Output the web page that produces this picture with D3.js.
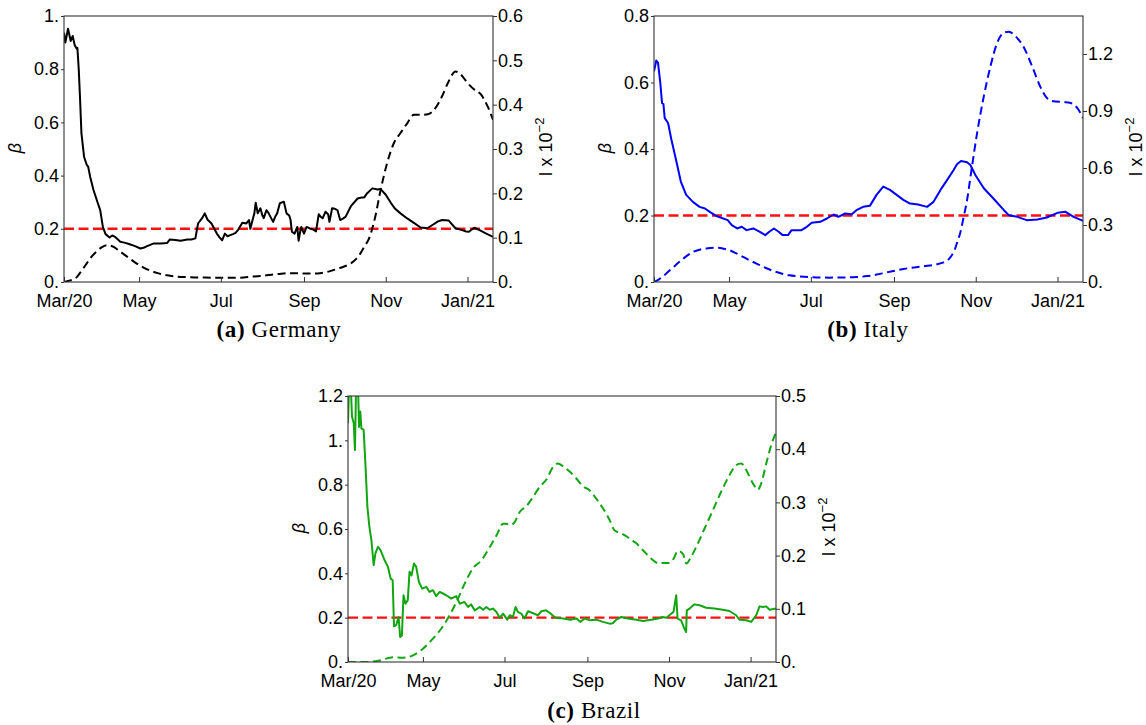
<!DOCTYPE html>
<html>
<head>
<meta charset="utf-8">
<script src="https://cdn.jsdelivr.net/npm/d3@7"></script>
<style>
  html, body { margin: 0; padding: 0; background: #fff; }
  svg { display: block; }
  .tick-label { font-family: "Liberation Sans", Arial, Helvetica, sans-serif; font-size: 18px; fill: #000; }
  .caption { font-family: "Liberation Serif", "Times New Roman", serif; font-size: 23px; fill: #000; letter-spacing: 0.6px; }
</style>
</head>
<body>
<svg id="chart" width="1146" height="725"></svg>
<script>
// ---- Data: [days since 6 Mar 2020, value] ----
const seriesStart = Date.UTC(2020, 2, 6);
const seriesDays = 320;

const dateTickDates = [[2020, 2, 6], [2020, 4, 1], [2020, 6, 1], [2020, 8, 1], [2020, 10, 1], [2021, 0, 1]];
const dateTickLabels = ["Mar/20", "May", "Jul", "Sep", "Nov", "Jan/21"];

const betaThreshold = 0.2;

const germanyBetaTicks = [0, 0.2, 0.4, 0.6, 0.8, 1];
const germanyITicks = [0, 0.1, 0.2, 0.3, 0.4, 0.5, 0.6];
const italyBetaTicks = [0, 0.2, 0.4, 0.6, 0.8];
const italyITicks = [0, 0.3, 0.6, 0.9, 1.2];
const brazilBetaTicks = [0, 0.2, 0.4, 0.6, 0.8, 1, 1.2];
const brazilITicks = [0, 0.1, 0.2, 0.3, 0.4, 0.5];

const germanyBeta = [[0,0.937],[1,0.90],[3,0.952],[5,0.906],[6.5,0.925],[8,0.89],[9.5,0.877],[10,0.88],[11,0.80],[12,0.686],[13,0.56],[15,0.47],[17,0.44],[18,0.434],[19.5,0.396],[22,0.346],[25,0.30],[27,0.27],[29,0.207],[31,0.18],[34,0.167],[36,0.175],[38,0.17],[42,0.151],[45,0.148],[49,0.142],[53,0.135],[57,0.126],[60,0.13],[62,0.135],[67,0.145],[72,0.145],[77,0.147],[79,0.16],[83,0.158],[87,0.155],[92,0.16],[95,0.16],[98,0.164],[100,0.22],[103,0.24],[105,0.258],[107,0.235],[110,0.22],[114,0.182],[116,0.168],[118,0.157],[120,0.182],[122,0.172],[124,0.176],[126,0.18],[128,0.185],[130,0.197],[133,0.223],[136,0.22],[138,0.233],[139,0.2],[141,0.24],[142,0.258],[143,0.298],[144.5,0.258],[146.5,0.277],[148,0.25],[149,0.24],[151,0.27],[152.5,0.26],[154,0.245],[156,0.226],[157.5,0.245],[159,0.258],[161,0.296],[164,0.302],[166,0.258],[168,0.25],[169,0.233],[170,0.189],[172,0.182],[173,0.195],[174,0.207],[175,0.155],[176,0.185],[177,0.207],[179,0.182],[181,0.207],[184,0.2],[186,0.197],[188,0.19],[190,0.255],[191.5,0.245],[193,0.24],[195,0.264],[197,0.255],[198,0.226],[200,0.277],[202,0.275],[204,0.27],[206,0.233],[208,0.238],[210,0.245],[214,0.285],[219,0.314],[222,0.318],[224,0.318],[226,0.333],[230,0.352],[234,0.348],[236,0.35],[240,0.328],[244,0.296],[247,0.275],[251,0.258],[256,0.239],[261,0.222],[266,0.205],[271,0.202],[276,0.218],[279,0.228],[282,0.233],[287,0.231],[292,0.202],[297,0.195],[300,0.19],[302,0.189],[306,0.204],[310,0.195],[315,0.182],[320,0.17]];

const germanyI = [[0,0],[4,0.003],[9.5,0.011],[13,0.025],[17,0.042],[20,0.055],[24,0.068],[28,0.078],[32,0.083],[37,0.079],[40,0.073],[44,0.064],[49,0.053],[54,0.042],[59,0.033],[64,0.026],[70,0.02],[77,0.015],[85,0.012],[92,0.011],[100,0.01],[112,0.0098],[122,0.0095],[131.5,0.0098],[140,0.012],[151,0.015],[160,0.018],[169,0.020],[181,0.019],[191,0.020],[198,0.024],[204,0.030],[209,0.035],[214,0.042],[218,0.052],[221,0.064],[224,0.08],[227.5,0.098],[232,0.145],[236,0.205],[241,0.268],[246,0.313],[251,0.336],[256,0.358],[261,0.377],[266,0.377],[272,0.379],[277,0.392],[282,0.419],[287,0.453],[292,0.475],[296,0.468],[301,0.449],[306,0.434],[311,0.423],[316,0.396],[320,0.366]];

const italyBeta = [[0,0.634],[1.7,0.666],[3,0.659],[4.7,0.599],[6,0.538],[7,0.536],[8,0.493],[10.5,0.478],[13,0.428],[17,0.357],[20,0.302],[24,0.262],[29,0.241],[34,0.226],[38,0.221],[41.6,0.211],[46.6,0.198],[51.6,0.191],[55,0.186],[58,0.171],[62,0.161],[65.5,0.166],[69,0.156],[74,0.161],[79,0.151],[83,0.141],[86,0.151],[89.5,0.161],[93,0.151],[96,0.141],[100,0.141],[102.6,0.156],[106,0.156],[110,0.156],[114,0.166],[117.6,0.178],[124,0.181],[129,0.191],[134,0.203],[137.5,0.196],[142.5,0.206],[147.5,0.204],[151,0.216],[156,0.226],[161,0.229],[166,0.262],[171,0.287],[176,0.277],[181,0.262],[186,0.247],[191,0.236],[197,0.233],[203.7,0.226],[208.5,0.241],[213.7,0.277],[218.7,0.307],[223.5,0.337],[226,0.354],[229,0.364],[233.5,0.36],[236,0.352],[239.7,0.322],[246,0.282],[253,0.252],[261,0.216],[264.6,0.201],[271,0.196],[278,0.186],[286,0.188],[293,0.194],[301,0.208],[307,0.211],[313,0.196],[320,0.184]];

const italyI = [[0,0],[4,0.015],[9,0.044],[14,0.075],[19,0.106],[24,0.135],[29,0.158],[34,0.17],[39,0.176],[46.6,0.18],[52,0.175],[56.5,0.167],[61,0.152],[66.5,0.132],[71,0.115],[76.5,0.097],[83,0.075],[89,0.058],[95,0.045],[101,0.035],[108,0.03],[116,0.026],[131,0.023],[141,0.024],[151,0.026],[159,0.031],[166,0.039],[172,0.048],[178.5,0.058],[185,0.067],[191,0.074],[201,0.083],[211,0.093],[216,0.103],[219,0.114],[221,0.13],[223.6,0.158],[226,0.205],[228.5,0.26],[231,0.343],[233.5,0.43],[236,0.55],[241,0.784],[246,0.977],[251,1.136],[256,1.259],[261,1.312],[264.6,1.317],[269.6,1.294],[276,1.233],[282,1.136],[288,1.03],[293,0.969],[298,0.951],[305.7,0.947],[310.7,0.942],[315.7,0.916],[320,0.863]];

const brazilBeta = [[0,1.077],[1,1.3],[2,1.25],[3,1.107],[4.3,1.077],[5.2,0.956],[6.2,1.3],[7.5,1.25],[8.2,1.06],[9.2,1.13],[10,1.054],[11.7,1.047],[13,0.896],[14.5,0.7],[16,0.61],[17.5,0.55],[19.2,0.437],[20.5,0.49],[22.4,0.52],[24.4,0.504],[27.4,0.459],[29.9,0.429],[31.9,0.376],[33.4,0.369],[34.4,0.161],[36,0.166],[37.8,0.203],[39,0.113],[40.3,0.12],[41.5,0.301],[43,0.263],[44.7,0.279],[46,0.407],[47.5,0.391],[49.3,0.444],[51,0.429],[53,0.361],[55.5,0.331],[58.5,0.339],[61,0.316],[63.5,0.324],[66,0.297],[68.5,0.316],[71,0.309],[73.5,0.301],[77.2,0.286],[81,0.297],[83.5,0.263],[87,0.271],[89.8,0.248],[92,0.26],[94.8,0.233],[98.5,0.248],[101,0.236],[103.4,0.248],[106,0.236],[108.4,0.241],[111,0.226],[113.4,0.2],[116,0.218],[119,0.191],[121,0.211],[123.3,0.203],[125.3,0.248],[127,0.226],[129.5,0.218],[132,0.196],[134.6,0.229],[138,0.221],[142,0.211],[144.6,0.229],[148,0.233],[151,0.221],[155,0.2],[161,0.196],[166,0.191],[171,0.196],[173.6,0.181],[177,0.196],[181,0.188],[185.6,0.191],[190.6,0.181],[195.6,0.173],[198,0.175],[200.6,0.191],[204.3,0.203],[209.3,0.196],[215.6,0.191],[220.6,0.185],[226.8,0.191],[231.8,0.196],[235.5,0.203],[238,0.2],[241.7,0.218],[243.4,0.226],[245.4,0.301],[246.4,0.196],[249,0.188],[251,0.158],[252.8,0.135],[253.3,0.233],[255.4,0.241],[259,0.26],[262.8,0.256],[267.8,0.245],[274,0.241],[280.2,0.236],[285.2,0.23],[290.2,0.211],[292.7,0.191],[297.7,0.188],[301.5,0.181],[305.2,0.211],[307.7,0.251],[310.2,0.248],[312.7,0.251],[315.2,0.236],[320,0.241]];

const brazilI = [[0,0],[13.7,0],[23.7,0.003],[33.7,0.009],[41.2,0.008],[48.6,0.0125],[56,0.025],[63.5,0.044],[69.8,0.063],[76,0.088],[82.2,0.119],[88.5,0.154],[93.4,0.176],[99.7,0.191],[106,0.216],[111,0.238],[116,0.26],[118.5,0.26],[121,0.257],[124.6,0.263],[128.4,0.282],[133.4,0.293],[138.3,0.31],[143.3,0.329],[148.3,0.343],[153.2,0.366],[157,0.373],[160.7,0.368],[165.7,0.358],[170.7,0.345],[175.7,0.33],[180.6,0.323],[185.6,0.307],[190.6,0.289],[195.6,0.267],[199.4,0.247],[204.3,0.242],[210.6,0.232],[215.6,0.223],[220.6,0.21],[226.8,0.194],[231.8,0.186],[239.3,0.186],[243.4,0.194],[246.7,0.209],[250.5,0.203],[253,0.185],[256.6,0.198],[261.6,0.223],[266.6,0.251],[272.8,0.285],[279,0.32],[285.2,0.351],[290.2,0.37],[294,0.373],[297.7,0.361],[302.7,0.336],[306.5,0.324],[309,0.336],[312.7,0.373],[316.5,0.408],[320,0.432]];

// ---- Panel layout ----
const panels = [
  { id: "de", left: 64,  top: 16,  width: 429, height: 266, color: "#000000",
    beta: germanyBeta, inf: germanyI, betaTicks: germanyBetaTicks, iTicks: germanyITicks,
    capTag: "(a)", capName: "Germany", capX: 279, capY: 337 },
  { id: "it", left: 654, top: 16,  width: 429, height: 266, color: "#0000ff",
    beta: italyBeta, inf: italyI, betaTicks: italyBetaTicks, iTicks: italyITicks,
    capTag: "(b)", capName: "Italy", capX: 868, capY: 337 },
  { id: "br", left: 348, top: 396, width: 428, height: 266, color: "#12a512",
    beta: brazilBeta, inf: brazilI, betaTicks: brazilBetaTicks, iTicks: brazilITicks,
    capTag: "(c)", capName: "Brazil", capX: 594, capY: 718 }
];

const svg = d3.select("#chart");
const toDate = d => new Date(seriesStart + d * 86400000);
const fmtTick = v => (Math.abs(v - Math.round(v)) < 1e-9 ? Math.round(v) + "." : String(+v.toFixed(2)));
const frameColor = "#333";

panels.forEach(p => {
  const x = d3.scaleUtc().domain([toDate(0), toDate(seriesDays)]).range([0, p.width]);
  const yB = d3.scaleLinear().domain([0, d3.max(p.betaTicks)]).range([p.height, 0]);
  const iMax = p.id === "it" ? 1.4 : d3.max(p.iTicks);
  const yI = d3.scaleLinear().domain([0, iMax]).range([p.height, 0]);

  const g = svg.append("g").attr("transform", `translate(${p.left},${p.top})`);

  g.append("clipPath").attr("id", "clip-" + p.id)
    .append("rect").attr("width", p.width).attr("height", p.height);

  const plot = g.append("g").attr("clip-path", `url(#clip-${p.id})`);

  // threshold line
  plot.append("line")
    .attr("x1", 0).attr("x2", p.width)
    .attr("y1", yB(betaThreshold)).attr("y2", yB(betaThreshold))
    .attr("stroke", "#ff1010").attr("stroke-width", 2.4)
    .attr("stroke-dasharray", "10,4.5");

  // infected fraction (dashed, right axis)
  const lineI = d3.line().x(d => x(toDate(d[0]))).y(d => yI(d[1])).curve(d3.curveMonotoneX);
  plot.append("path").datum(p.inf)
    .attr("d", lineI).attr("fill", "none")
    .attr("stroke", p.color).attr("stroke-width", 2)
    .attr("stroke-dasharray", "8,4.5");

  // transmission rate (solid, left axis)
  const lineB = d3.line().x(d => x(toDate(d[0]))).y(d => yB(d[1]));
  plot.append("path").datum(p.beta)
    .attr("d", lineB).attr("fill", "none")
    .attr("stroke", p.color).attr("stroke-width", 2)
    .attr("stroke-linejoin", "round");

  // frame
  g.append("rect").attr("width", p.width).attr("height", p.height)
    .attr("fill", "none").attr("stroke", frameColor).attr("stroke-width", 1.1);

  // bottom date axis (inward ticks)
  const tickDates = dateTickDates.map(t => new Date(Date.UTC(t[0], t[1], t[2])));
  const xAxis = d3.axisBottom(x).tickValues(tickDates)
    .tickFormat((d, i) => dateTickLabels[i]).tickSizeInner(-5).tickSizeOuter(0).tickPadding(12);
  const gx = g.append("g").attr("transform", `translate(0,${p.height})`).call(xAxis);
  gx.select(".domain").remove();
  gx.selectAll(".tick line").attr("stroke", frameColor);
  gx.selectAll(".tick text").attr("class", "tick-label").attr("font-size", null).attr("font-family", null);

  // left beta axis
  const yAxisL = d3.axisLeft(yB).tickValues(p.betaTicks).tickFormat(fmtTick)
    .tickSizeInner(3).tickSizeOuter(0).tickPadding(2);
  const gl = g.append("g").call(yAxisL);
  gl.select(".domain").remove();
  gl.selectAll(".tick line").attr("stroke", frameColor);
  gl.selectAll(".tick text").attr("class", "tick-label").attr("font-size", null).attr("font-family", null);

  // right infected axis
  const yAxisR = d3.axisRight(yI).tickValues(p.iTicks).tickFormat(fmtTick)
    .tickSizeInner(4).tickSizeOuter(0).tickPadding(1);
  const gr = g.append("g").attr("transform", `translate(${p.width},0)`).call(yAxisR);
  gr.select(".domain").remove();
  gr.selectAll(".tick line").attr("stroke", frameColor);
  gr.selectAll(".tick text").attr("class", "tick-label").attr("font-size", null).attr("font-family", null);

  // axis titles
  g.append("text").attr("class", "tick-label")
    .attr("transform", `translate(-43,${p.height / 2 - 1}) rotate(-90)`)
    .attr("text-anchor", "middle").attr("font-style", "italic")
    .text("β");

  const it = g.append("text").attr("class", "tick-label")
    .attr("transform", `translate(${p.width + 59},${p.height / 2 - 2}) rotate(-90)`)
    .attr("text-anchor", "middle").attr("font-size", "17px");
  it.append("tspan").text("I x 10");
  it.append("tspan").attr("dy", -8).attr("font-size", "13px").text("−2");

  // caption
  const cap = svg.append("text").attr("class", "caption")
    .attr("x", p.capX).attr("y", p.capY).attr("text-anchor", "middle");
  cap.append("tspan").attr("font-weight", "bold").text(p.capTag);
  cap.append("tspan").text(" " + p.capName);
});
</script>
</body>
</html>
